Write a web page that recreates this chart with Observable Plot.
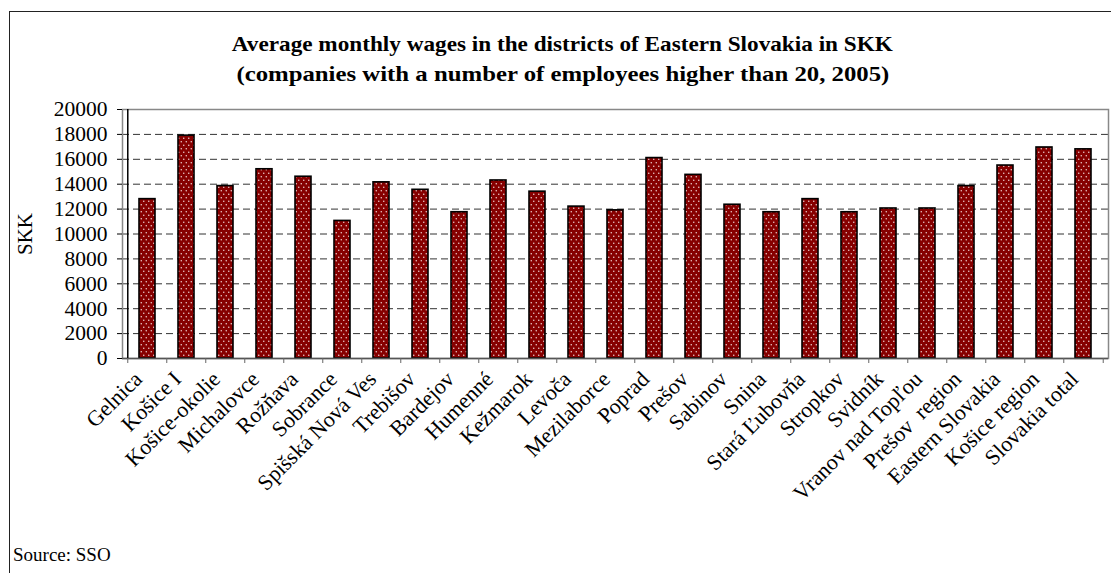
<!DOCTYPE html>
<html><head><meta charset="utf-8">
<script src="https://cdn.jsdelivr.net/npm/d3@7"></script>
<script src="https://cdn.jsdelivr.net/npm/@observablehq/plot@0.6"></script>
<style>
body{margin:0;background:#fff;}
#wrap{position:relative;width:1111px;height:573px;overflow:hidden;font-family:"Liberation Serif","Times New Roman",serif;color:#000;}
#frame{position:absolute;left:9px;top:11px;width:1300px;height:800px;border-left:1.5px solid #222;border-top:1.5px solid #222;}
.tl{position:absolute;left:562px;white-space:nowrap;font-weight:bold;font-size:22px;line-height:22px;transform-origin:center;}
#chart{position:absolute;left:0;top:0;}
#src{position:absolute;left:13px;top:544px;font-size:19px;line-height:22px;white-space:nowrap;}
</style>
</head><body>
<div id="wrap">
  <div id="frame"></div>
  <div id="t1" class="tl">Average monthly wages in the districts of Eastern Slovakia in SKK</div>
  <div id="t2" class="tl">(companies with a number of employees higher than 20, 2005)</div>
  <div id="chart"></div>
  <div id="src">Source: SSO</div>
</div>
<script>
const districts = ["Gelnica","Košice I","Košice-okolie","Michalovce","Rožňava","Sobrance","Spišská Nová Ves","Trebišov","Bardejov","Humenné","Kežmarok","Levoča","Mezilaborce","Poprad","Prešov","Sabinov","Snina","Stará Ľubovňa","Stropkov","Svidník","Vranov nad Topľou","Prešov  region","Eastern Slovakia","Košice region","Slovakia total"];
const wages = [12800,17900,13850,15200,14600,11050,14150,13550,11750,14300,13400,12200,11900,16100,14750,12350,11750,12800,11750,12050,12050,13850,15500,16950,16800];
const yTicks = [0,2000,4000,6000,8000,10000,12000,14000,16000,18000,20000];
const gridLines = [2000,4000,6000,8000,10000,12000,14000,16000,18000];

const data = districts.map((d,i)=>({district:d, wage:wages[i]}));

const SERIF = '"Liberation Serif","Times New Roman",serif';
const W = 1111, H = 573, mL = 122, mR = 3, mT = 109, mB = 215;
const step = (W - mL - mR) / districts.length;

const chart = Plot.plot({
  width: W, height: H,
  marginLeft: mL, marginRight: mR, marginTop: mT, marginBottom: mB,
  style: {fontFamily: SERIF, fontSize: "19px", color: "#000", background: "transparent", overflow: "visible"},
  x: {domain: districts, paddingInner: 0.59, paddingOuter: 0.295, label: null},
  y: {domain: [0, 20000], ticks: yTicks, label: null},
  marks: [
    Plot.ruleY(gridLines, {stroke: "#333", strokeDasharray: "7,4", strokeWidth: 1}),
    Plot.frame({stroke: "#888", strokeWidth: 1.5}),
    Plot.barY(data, {x: "district", y: "wage", fill: "url(#dots)", stroke: "#000", strokeWidth: 1.6}),
    Plot.axisY({ticks: yTicks, tickSize: 5, tickPadding: 10, tickFormat: d => String(d), label: null, stroke: "#000",
      fontFamily: SERIF, fontSize: 21.5, fontVariant: "normal"}),
    Plot.ruleY([0], {stroke: "#555", strokeWidth: 1.5}),
    Plot.ruleX([districts[0]], {dx: -step/2, y1: 0, y2: 20000, stroke: "#000", strokeWidth: 1.5}),
    Plot.axisX({tickSize: 5, tickFormat: () => "", dx: -step/2, stroke: "#666"}),
    Plot.axisX([districts[districts.length-1]], {tickSize: 5, tickFormat: () => "", dx: step/2, stroke: "#666"}),
    Plot.axisX({tickSize: 0, tickRotate: -45, tickPadding: 17, dx: -9, label: null, fontFamily: SERIF, fontSize: 22})
  ]
});

// dotted pattern for bars
const ns = "http://www.w3.org/2000/svg";
const defs = document.createElementNS(ns, "defs");
defs.innerHTML = `<pattern id="dots" width="5" height="7" patternUnits="userSpaceOnUse">
  <rect width="5" height="7" fill="#860000"/>
  <circle cx="1.25" cy="1.75" r="0.75" fill="#f0d6d6"/>
  <circle cx="3.75" cy="5.25" r="0.75" fill="#f0d6d6"/>
</pattern>`;
chart.insertBefore(defs, chart.firstChild);

// y-axis title
const t = document.createElementNS(ns, "text");
t.setAttribute("transform", "translate(32,234) rotate(-90)");
t.setAttribute("text-anchor", "middle");
t.setAttribute("font-size", "21");
t.setAttribute("font-family", SERIF);
t.textContent = "SKK";
chart.appendChild(t);

document.getElementById("chart").appendChild(chart);

// title fitting
function fit(id, left, right, baseline) {
  const el = document.getElementById(id);
  el.style.top = (baseline - 18) + "px";
  const w = el.getBoundingClientRect().width;
  const k = (right - left) / w;
  el.style.left = ((left + right) / 2 - w / 2) + "px";
  el.style.transform = `scaleX(${k})`;
}
fit("t1", 232, 893, 51);
fit("t2", 236, 889, 81);
</script>
</body></html>
